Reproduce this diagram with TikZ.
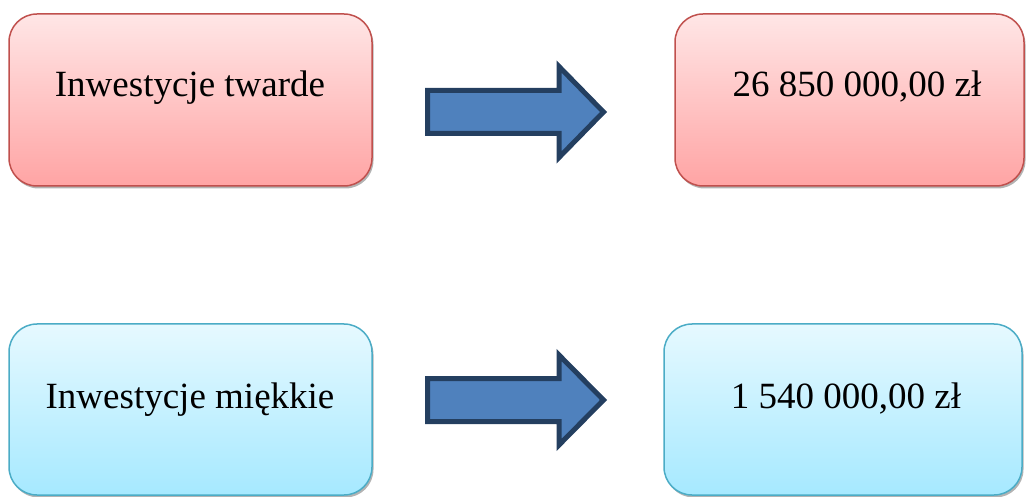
\documentclass[tikz,border=0pt]{standalone}
\usepackage{fontspec}
\setmainfont{Liberation Serif}
\usetikzlibrary{shadows,calc}
\definecolor{redtop}{HTML}{FFE6E6}
\definecolor{redbot}{HTML}{FFA4A4}
\definecolor{redline}{HTML}{C0504D}
\definecolor{bluetop}{HTML}{E6F9FF}
\definecolor{bluebot}{HTML}{A6E9FF}
\definecolor{blueline}{HTML}{4BACC6}
\definecolor{arrowfill}{HTML}{4F81BD}
\definecolor{arrowline}{HTML}{243F60}
\tikzset{
  box/.style={draw, line width=1.5pt, rounded corners=28pt, shading=axis,
    drop shadow={shadow xshift=1.5pt, shadow yshift=-2.5pt, fill=black!50, opacity=0.6}},
  redbox/.style={box, draw=redline, top color=redtop, bottom color=redbot},
  bluebox/.style={box, draw=blueline, top color=bluetop, bottom color=bluebot},
  lbl/.style={anchor=base, font=\fontsize{37}{40}\selectfont, inner sep=0pt},
  blockarrow/.style={draw=arrowline, fill=arrowfill, line width=5pt, line join=miter}
}
\begin{document}
\begin{tikzpicture}[x=1pt,y=1pt]
\useasboundingbox (0,0) rectangle (1026,496);
% boxes
\node[redbox, minimum width=363pt, minimum height=172pt] (tl) at (190.5,396) {};
\node[redbox, minimum width=349pt, minimum height=172pt] (tr) at (849.5,396) {};
\node[bluebox, minimum width=363pt, minimum height=171pt] (bl) at (190.5,86.5) {};
\node[bluebox, minimum width=358pt, minimum height=171pt] (br) at (843,86.5) {};
% labels
\node[lbl] (tlt) at (190,399) {Inwestycje twarde};
\node[lbl] (trt) at (857,399) {26 850 000,00 zł};
\node[lbl] (blt) at (190,88) {Inwestycje miękkie};
\node[lbl] (brt) at (846,88) {1 540 000,00 zł};
% block arrows
\coordinate (a1) at (427.5,384);
\coordinate (a2) at (427.5,96);
\draw[blockarrow] ($(a1)+(0,21.5)$) -- ($(a1)+(131.5,21.5)$) -- ($(a1)+(131.5,45.5)$) -- ($(a1)+(176,0)$)
  -- ($(a1)+(131.5,-45.5)$) -- ($(a1)+(131.5,-21.5)$) -- ($(a1)+(0,-21.5)$) -- cycle;
\draw[blockarrow] ($(a2)+(0,21.5)$) -- ($(a2)+(131.5,21.5)$) -- ($(a2)+(131.5,45)$) -- ($(a2)+(176,0)$)
  -- ($(a2)+(131.5,-45)$) -- ($(a2)+(131.5,-21.5)$) -- ($(a2)+(0,-21.5)$) -- cycle;
\end{tikzpicture}
\end{document}
